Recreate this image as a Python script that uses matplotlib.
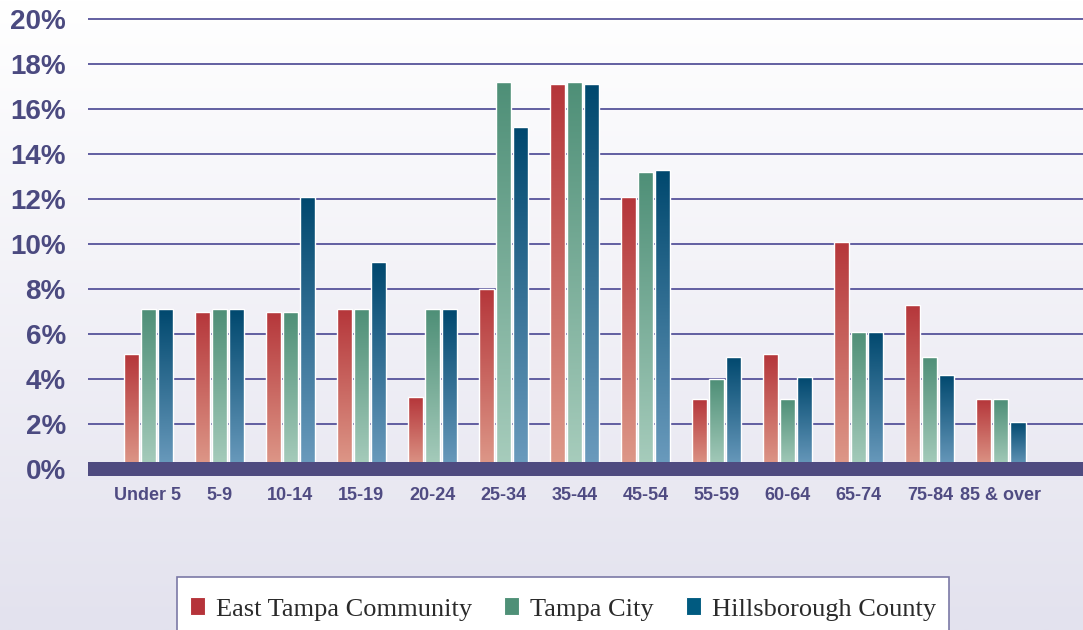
import numpy as np
import matplotlib
matplotlib.use("Agg")
import matplotlib.pyplot as plt
from matplotlib.colors import LinearSegmentedColormap
from matplotlib.patches import Patch, Rectangle

categories = ["Under 5", "5-9", "10-14", "15-19", "20-24", "25-34", "35-44",
              "45-54", "55-59", "60-64", "65-74", "75-84", "85 & over"]
east_tampa = [5.1, 7.0, 7.0, 7.1, 3.2, 8.0, 17.1, 12.1, 3.1, 5.1, 10.1, 7.3, 3.1]
tampa_city = [7.1, 7.1, 7.0, 7.1, 7.1, 17.2, 17.2, 13.2, 4.0, 3.1, 6.1, 5.0, 3.1]
hillsborough = [7.1, 7.1, 12.1, 9.2, 7.1, 15.2, 17.1, 13.3, 5.0, 4.1, 6.1, 4.2, 2.1]
series_names = ["East Tampa Community", "Tampa City", "Hillsborough County"]
yticks = [0, 2, 4, 6, 8, 10, 12, 14, 16, 18, 20]

W, H = 1083, 630
fig = plt.figure(figsize=(W / 100, H / 100), dpi=100)

# background gradient
bg = fig.add_axes([0, 0, 1, 1], zorder=-10)
bgcmap = LinearSegmentedColormap.from_list("bg", ["#e3e2ee", "#ffffff"])
bg.imshow(np.linspace(0, 1, 256).reshape(-1, 1), cmap=bgcmap, aspect="auto",
          extent=[0, 1, 0, 1], origin="lower")
bg.axis("off")

left, right, y0 = 88, 1083, 469
ytop = 20.4
ppu = 22.5
ax = fig.add_axes([left / W, (H - y0) / H, (right - left) / W, ytop * ppu / H])
ax.set_facecolor("none")

x = np.arange(len(categories))
spacing = (1001 - 148) / 12.0
bw = 15 / spacing
off = 17 / spacing

grads = [
    ("#de9a8a", "#b5363a"),
    ("#a8cdbd", "#4e8f77"),
    ("#6c9cbe", "#00486e"),
]
series = [east_tampa, tampa_city, hillsborough]
grad_img = np.linspace(0, 1, 256).reshape(-1, 1)
for i, (vals, (lo, hi)) in enumerate(zip(series, grads)):
    cmap = LinearSegmentedColormap.from_list(f"g{i}", [lo, hi])
    bars = ax.bar(x + (i - 1) * off, vals, width=bw, facecolor="none",
                  edgecolor="#ffffff", linewidth=1.0, zorder=3)
    for r in bars:
        bx, by, w, h = r.get_x(), r.get_y(), r.get_width(), r.get_height()
        im = ax.imshow(grad_img, cmap=cmap, aspect="auto", origin="lower",
                       extent=[bx, bx + w, by, by + h], zorder=2.5)
        im.set_clip_path(r)

ax.set_xlim(-(148 - left) / spacing, (right - 148) / spacing)
ax.set_ylim(0, ytop)

for yv in yticks[1:]:
    ax.axhline(yv, color="#56539a", lw=1.3, zorder=1)
ax.axhline(0, color="#4f4b80", lw=14 * 0.72, zorder=5, clip_on=False,
           solid_capstyle="butt")

for s in ax.spines.values():
    s.set_visible(False)

ax.set_yticks(yticks)
ax.set_yticklabels([f"{v}%" for v in yticks], fontsize=20, fontweight="bold",
                   color="#4b4a80", family="Liberation Sans")
ax.set_xticks(x)
ax.set_xticklabels(categories, fontsize=13, fontweight="bold",
                   color="#4f4b82", family="Liberation Sans")
ax.tick_params(axis="y", length=0, pad=16)
ax.tick_params(axis="x", length=0, pad=13)

handles = [Patch(facecolor=c, edgecolor="#ffffff", linewidth=0.8)
           for c in ["#b5333a", "#4f9077", "#005a80"]]
leg = fig.legend(handles, series_names, loc="center left",
                 bbox_to_anchor=(190 / W, 1 - 609 / H), ncol=3,
                 prop={"family": "Liberation Serif", "size": 19},
                 borderpad=0, handlelength=0.57, handleheight=0.68,
                 handletextpad=0.42, columnspacing=1.21, frameon=False,
                 borderaxespad=0)
for t in leg.get_texts():
    t.set_color("#2a2a2a")

# legend frame (box runs off the bottom edge as in the reference)
fig.canvas.draw()
bb = leg.get_window_extent()
pad = 13
frame = Rectangle((bb.x0 - pad, -20), bb.width + 2 * pad, (H - 577) + 20,
                  transform=None, facecolor="#ffffff", edgecolor="#7b79a6",
                  linewidth=1.2, zorder=-5)
fig.patches.append(frame)

fig.savefig("out.png", dpi=100)
